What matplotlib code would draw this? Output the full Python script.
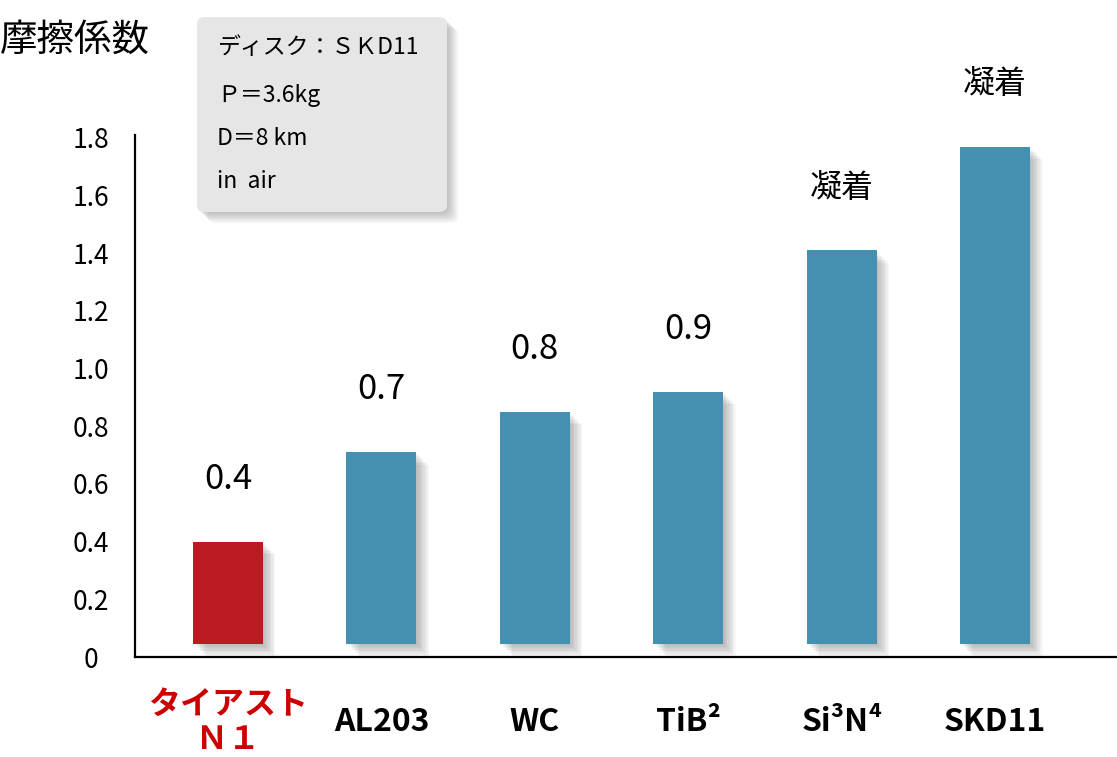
import matplotlib
matplotlib.use("Agg")
import matplotlib.pyplot as plt
import matplotlib.patheffects as pe
from matplotlib.patches import FancyBboxPatch

plt.rcParams['font.family'] = ['Noto Sans CJK JP', 'DejaVu Sans']

# data
materials = ["タイアスト\nＮ１", "AL203", "WC", "TiB²", "Si³N⁴", "SKD11"]
friction = [0.40, 0.71, 0.85, 0.92, 1.41, 1.77]
value_labels = ["0.4", "0.7", "0.8", "0.9", "凝着", "凝着"]
yticks = [0, 0.2, 0.4, 0.6, 0.8, 1.0, 1.2, 1.4, 1.6, 1.8]
ytick_labels = ["0", "0.2", "0.4", "0.6", "0.8", "1.0", "1.2", "1.4", "1.6", "1.8"]
conditions = ["ディスク：ＳＫD11", "Ｐ＝3.6kg", "D＝8 km", "in  air"]

red = "#bc1a21"
blue = "#4590b0"
bar_base = 0.045  # bars float a little above the axis line

fig = plt.figure(figsize=(11.17, 7.57), dpi=100)
ax = fig.add_axes([0.1209, 0.1321, 0.8791, 0.6896])

x = list(range(len(materials)))
colors = [red] + [blue] * (len(materials) - 1)
heights = [v - bar_base for v in friction]
bars = ax.bar(x, heights, bottom=bar_base, width=0.456, color=colors, zorder=3)

# soft-ish drop shadow from stacked faint copies
shadow = [pe.SimplePatchShadow(offset=(d, -d), alpha=0.03, shadow_rgbFace="black")
          for d in range(1, 10)] + [pe.Normal()]
for b in bars:
    b.set_path_effects(shadow)

for xi, v, lab in zip(x, friction, value_labels):
    ax.annotate(lab, (xi, v), xytext=(0, 45), textcoords="offset points",
                ha="center", va="center", fontsize=25 if lab[0].isdigit() else 23)

ax.set_xlim(-0.606, 5.795)
ax.set_ylim(0, 1.81)
ax.set_yticks(yticks)
ax.set_yticklabels(ytick_labels, fontsize=19, ha="center")
ax.set_xticks(x)
ax.set_xticklabels(materials, fontsize=23, fontweight="bold", linespacing=1.15)
ax.tick_params(axis="y", length=0, pad=32)
ax.tick_params(axis="x", length=0, pad=47)
for t in ax.get_xticklabels():
    t.set_va("center")
ax.get_xticklabels()[0].set_color("#cc0000")

for s in ("top", "right"):
    ax.spines[s].set_visible(False)
for s in ("left", "bottom"):
    ax.spines[s].set_linewidth(1.6)

fig.text(0.0, 0.947, "摩擦係数", fontsize=27, ha="left", va="center")

box = FancyBboxPatch((0.1764, 0.7199), 0.2238, 0.2576,
                     boxstyle="round,pad=0,rounding_size=0.008",
                     transform=fig.transFigure, facecolor="#e6e6e6",
                     edgecolor="none", zorder=5)
box.set_path_effects([pe.SimplePatchShadow(offset=(d, -d), alpha=0.03, shadow_rgbFace="black")
                      for d in range(1, 9)] + [pe.Normal()])
fig.add_artist(box)

line_y = [0.9366, 0.8745, 0.8177, 0.7596]
for ty, txt in zip(line_y, conditions):
    fig.text(0.1943, ty, txt, fontsize=16.5, ha="left", va="center", zorder=6)

fig.savefig("out.png", dpi=100)
